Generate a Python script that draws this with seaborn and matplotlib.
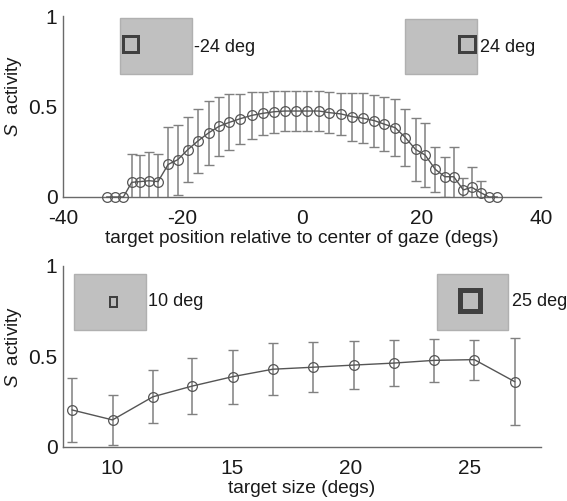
import matplotlib
matplotlib.use("Agg")
import matplotlib.pyplot as plt
import seaborn as sns
import numpy as np
import pandas as pd
from matplotlib.patches import Rectangle

# ---------------- data ----------------
pos_x = [-32.7, -31.3, -29.9, -28.5, -27.1, -25.6, -24.1, -22.4, -20.8, -19.1,
         -17.4, -15.6, -13.9, -12.2, -10.3, -8.4, -6.6, -4.7, -2.9, -1.0,
         0.9, 2.8, 4.6, 6.5, 8.4, 10.2, 12.1, 13.8, 15.6, 17.3,
         19.0, 20.6, 22.3, 23.9, 25.4, 27.0, 28.4, 29.9, 31.3, 32.7]
pos_y = [0.0, 0.0, 0.0, 0.081, 0.085, 0.09, 0.085, 0.18, 0.206, 0.262,
         0.31, 0.355, 0.39, 0.412, 0.433, 0.451, 0.462, 0.471, 0.475, 0.475,
         0.475, 0.475, 0.466, 0.459, 0.444, 0.435, 0.422, 0.402, 0.383, 0.328,
         0.263, 0.232, 0.153, 0.112, 0.112, 0.039, 0.054, 0.024, 0.0, 0.0]
pos_err = [0.0, 0.0, 0.0, 0.157, 0.147, 0.157, 0.153, 0.205, 0.194, 0.18,
           0.177, 0.178, 0.163, 0.155, 0.138, 0.13, 0.12, 0.115, 0.112, 0.112,
           0.112, 0.112, 0.114, 0.118, 0.133, 0.138, 0.143, 0.149, 0.158, 0.158,
           0.175, 0.175, 0.125, 0.111, 0.166, 0.068, 0.11, 0.064, 0.0, 0.0]

size_x = [8.3, 10.0, 11.7, 13.35, 15.05, 16.73, 18.41, 20.14, 21.82, 23.5, 25.2, 26.9]
size_y = [0.203, 0.148, 0.276, 0.335, 0.387, 0.428, 0.439, 0.451, 0.462, 0.477, 0.481, 0.359]
size_err = [0.175, 0.14, 0.147, 0.153, 0.149, 0.143, 0.138, 0.132, 0.127, 0.117, 0.11, 0.24]

top_xticks = [-40, -20, 0, 20, 40]
bot_xticks = [10, 15, 20, 25]
yticks = [0, 0.5, 1]
ytick_labels = ["0", "0.5", "1"]

top_xlabel = "target position relative to center of gaze (degs)"
bot_xlabel = "target size (degs)"
inset_labels = ["-24 deg", "24 deg", "10 deg", "25 deg"]

# ---------------- style ----------------
sns.set_style("white")
plt.rcParams["font.family"] = ["Liberation Sans", "DejaVu Sans"]
plt.rcParams["mathtext.fontset"] = "custom"
plt.rcParams["mathtext.it"] = "Liberation Sans:italic"

W, H = 567, 501
fig = plt.figure(figsize=(W / 100, H / 100), dpi=100)

TXT = "#1a1a1a"
AX = "#6a6a6a"
LINE = "#555555"
EBAR = "#808080"
FS_TICK = 15
FS_LAB = 13.8
FS_INSET = 13


def px_axes(left, top, right, bottom):
    return fig.add_axes([left / W, 1 - bottom / H, (right - left) / W, (bottom - top) / H])


def style_axes(ax, xlim, xticks, xlabel):
    ax.set_xlim(*xlim)
    ax.set_ylim(0, 1)
    ax.set_xticks(xticks)
    ax.set_xticklabels([str(t) for t in xticks])
    ax.set_yticks(yticks)
    ax.set_yticklabels(ytick_labels)
    for s in ["top", "right"]:
        ax.spines[s].set_visible(False)
    for s in ["left", "bottom"]:
        ax.spines[s].set_color(AX)
        ax.spines[s].set_linewidth(1.0)
    ax.tick_params(direction="in", length=4, width=1.0, color=AX,
                   labelsize=FS_TICK, labelcolor=TXT, pad=4)
    ax.tick_params(axis="x", pad=9)
    ax.set_xlabel(xlabel, fontsize=FS_LAB, color=TXT, labelpad=1)
    ax.set_ylabel(r"$S$  activity", fontsize=13.5, color=TXT)
    ax.patch.set_alpha(0)


def draw(ax, x, y, err):
    df = pd.DataFrame({"x": x, "y": y, "err": err})
    m = df["err"] > 0
    ax.errorbar(df.loc[m, "x"], df.loc[m, "y"], yerr=df.loc[m, "err"], fmt="none",
                ecolor=EBAR, elinewidth=1.1, capsize=3.5, capthick=1.0, zorder=2)
    sns.lineplot(data=df, x="x", y="y", ax=ax, color=LINE, linewidth=1.0,
                 marker="o", markersize=7, markerfacecolor="none",
                 markeredgecolor=LINE, markeredgewidth=0.9, clip_on=False,
                 sort=False, zorder=3)


ax1 = px_axes(63, 16, 541, 197)
draw(ax1, pos_x, pos_y, pos_err)
style_axes(ax1, (-40, 40), top_xticks, top_xlabel)
ax1.yaxis.set_label_coords(-0.082, 0.56)

ax2 = px_axes(63, 265.7, 541, 446.7)
draw(ax2, size_x, size_y, size_err)
style_axes(ax2, (7.92, 28.0), bot_xticks, bot_xlabel)
ax2.yaxis.set_label_coords(-0.082, 0.55)


# ---------------- insets (pictograms) ----------------
def prect(l, t, r, b, **kw):
    fig.patches.append(Rectangle((l / W, 1 - b / H), (r - l) / W, (b - t) / H,
                                 transform=fig.transFigure, figure=fig, **kw))


GRAY = "#c0c0c0"
GEDGE = "#b0b0b0"
DARK = "#404040"

insets = [
    # panel box, square box, square border width, label x, label y
    ((120, 18.3, 192.3, 74), (122.5, 36, 137.5, 52), 3.0, 194, 48),
    ((405.3, 19, 476.7, 74), (458.5, 36, 474.5, 52), 3.0, 480, 48),
    ((74, 274, 146, 330), (109.5, 296.5, 117, 306.5), 2.0, 148, 301.5),
    ((436.7, 274.3, 508.3, 330), (459.5, 289.5, 479.5, 311), 5.0, 512, 301.5),
]
for (box, sq, bw, tx, ty), lab in zip(insets, inset_labels):
    prect(*box, facecolor=GRAY, edgecolor=GEDGE, linewidth=1.0)
    prect(*sq, facecolor="#bdbdbd", edgecolor=DARK, linewidth=bw * 0.72)
    fig.text(tx / W, 1 - ty / H, lab, fontsize=FS_INSET, color=TXT,
             ha="left", va="center")

fig.savefig("out.png", dpi=100)
